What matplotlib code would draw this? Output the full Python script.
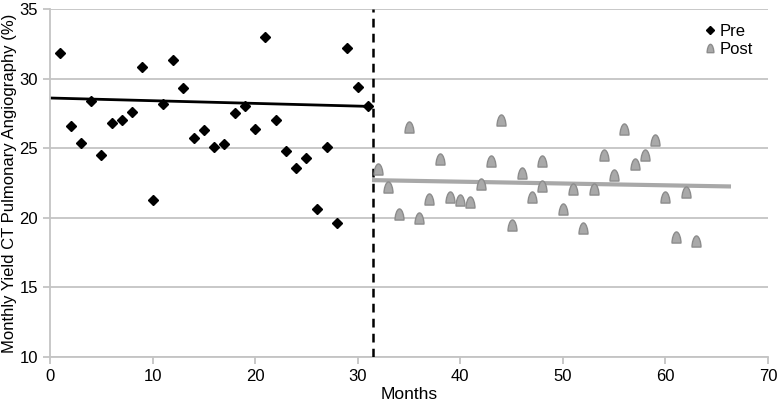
import numpy as np
import matplotlib
matplotlib.use('Agg')
import matplotlib.pyplot as plt
from matplotlib.path import Path

plt.rcParams['font.family'] = ['Liberation Sans', 'DejaVu Sans']

# pre-intervention monthly yield (%)
pre_months = list(range(1, 32))
pre_yield = [31.8, 26.6, 25.4, 28.4, 24.5, 26.8, 27.0, 27.6, 30.8, 21.3,
             28.2, 31.3, 29.3, 25.7, 26.3, 25.1, 25.3, 27.5, 28.0, 26.4,
             33.0, 27.0, 24.8, 23.6, 24.3, 20.6, 25.1, 19.6, 32.2, 29.4, 28.0]

# post-intervention monthly yield (%)
post_months = [32, 33, 34, 35, 36, 37, 38, 39, 40, 41, 42, 43, 44, 45, 46, 47,
               48, 48, 50, 51, 52, 53, 54, 55, 56, 57, 58, 59, 60, 61, 62, 63]
post_yield = [23.5, 22.2, 20.3, 26.5, 20.0, 21.35, 24.2, 21.5, 21.3, 21.1,
              22.4, 24.05, 27.0, 19.5, 23.2, 21.5, 24.05, 22.3, 20.6, 22.05,
              19.3, 22.1, 24.5, 23.05, 26.4, 23.85, 24.5, 25.6, 21.5, 18.65,
              21.85, 18.3]

# trend lines (end points)
pre_trend_x = [0, 31]
pre_trend_y = [28.6, 28.0]
post_trend_x = [31.6, 66.2]
post_trend_y = [22.7, 22.25]

cutoff = 31.5

# bell shaped marker for the post points
bell = Path([(-0.4, -0.5), (0.4, -0.5),
             (0.42, -0.15), (0.25, 0.5), (0.0, 0.5),
             (-0.25, 0.5), (-0.42, -0.15), (-0.4, -0.5),
             (-0.4, -0.5)],
            [Path.MOVETO, Path.LINETO,
             Path.CURVE4, Path.CURVE4, Path.CURVE4,
             Path.CURVE4, Path.CURVE4, Path.CURVE4,
             Path.CLOSEPOLY])

fig = plt.figure(figsize=(7.78, 4.04), dpi=100)
ax = fig.add_axes([0.0643, 0.1163, 0.9227, 0.8617])

ax.set_xlim(0, 70)
ax.set_ylim(10, 35)
ax.set_yticks([10, 15, 20, 25, 30, 35])
ax.set_xticks([0, 10, 20, 30, 40, 50, 60, 70])
ax.yaxis.grid(True, color='#c4c4c4', linewidth=1.3)
ax.set_axisbelow(True)

for s in ['top', 'right']:
    ax.spines[s].set_visible(False)
for s in ['left', 'bottom']:
    ax.spines[s].set_color('#c4c4c4')
    ax.spines[s].set_linewidth(1.3)
ax.tick_params(axis='both', colors='#c4c4c4', length=5, width=1.3,
               labelcolor='black', labelsize=12)

ax.plot(pre_trend_x, pre_trend_y, color='black', linewidth=2, zorder=2)
ax.plot(post_trend_x, post_trend_y, color='#a8a8a8', linewidth=3, zorder=2)

ax.axvline(cutoff, color='black', linewidth=1.8, linestyle=(0, (3.5, 2.5)), zorder=3)

ax.plot(pre_months, pre_yield, linestyle='none', marker='D', markersize=5.5,
        color='black', label='Pre', zorder=4)
ax.plot(post_months, post_yield, linestyle='none', marker=bell, markersize=8,
        markerfacecolor='#a9a9a9', markeredgecolor='#8c8c8c',
        markeredgewidth=1.0, label='Post', zorder=4)

ax.legend(loc='upper right', bbox_to_anchor=(1.0, 1.0), frameon=False,
          fontsize=12, handletextpad=0.0, handlelength=1.2, markerscale=0.75,
          labelspacing=0.2)

ax.set_xlabel('Months', fontsize=12.5, labelpad=2)
ax.set_ylabel('Monthly Yield CT Pulmonary Angiography (%)', fontsize=12, labelpad=2)

fig.savefig('out.png', dpi=100)
